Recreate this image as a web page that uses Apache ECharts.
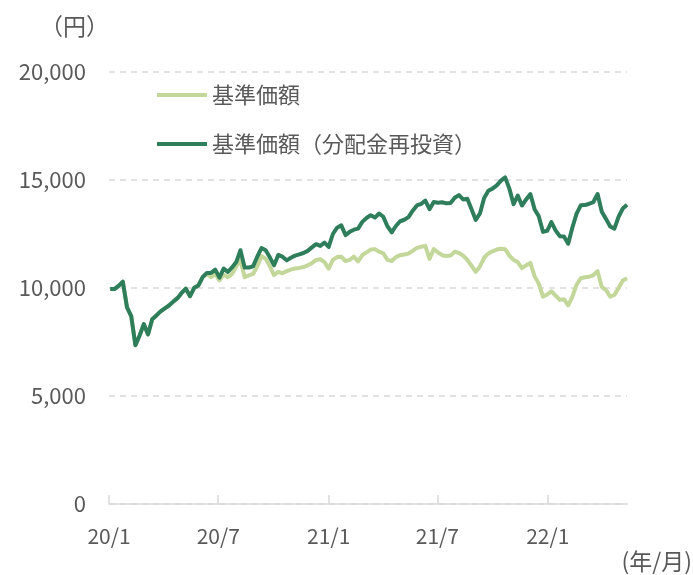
<!DOCTYPE html>
<html>
<head>
<meta charset="utf-8">
<script src="https://cdn.jsdelivr.net/npm/echarts@6/dist/echarts.min.js"></script>
<style>
html,body{margin:0;padding:0;background:#fff;}
#chart{width:693px;height:575px;}
</style>
</head>
<body>
<div id="chart"></div>
<script>
// Weekly observations, first one on day 2 (2020-01-03), counted in days from 2020-01-01
const firstDay = 2;
const stepDays = 7;
const seriesNames = ['基準価額', '基準価額（分配金再投資）'];
// 基準価額（分配金再投資）
const navReinvested = [
  9950, 9950, 10100, 10290, 9100, 8700, 7350, 7800, 8330, 7850,
  8550, 8730, 8920, 9060, 9190, 9370, 9530, 9770, 9970, 9620,
  10010, 10120, 10500, 10700, 10700, 10850, 10480, 10900, 10750, 10950,
  11200, 11750, 10950, 10950, 11000, 11450, 11850, 11750, 11420, 11050,
  11530, 11450, 11280, 11400, 11500, 11560, 11620, 11720, 11880, 12030,
  11950, 12100, 11900, 12500, 12790, 12900, 12450, 12600, 12700, 12750,
  13060, 13240, 13370, 13260, 13450, 13300, 12850, 12580, 12870, 13090,
  13160, 13280, 13580, 13820, 13890, 14050, 13650, 13980, 13950, 13970,
  13920, 13940, 14180, 14300, 14100, 14130, 13650, 13150, 13450, 14170,
  14500, 14600, 14750, 14970, 15120, 14600, 13880, 14280, 13820, 14100,
  14350, 13650, 13320, 12600, 12650, 13050, 12670, 12400, 12380, 12050,
  12800, 13440, 13830, 13840, 13900, 13980, 14350, 13530, 13200, 12850,
  12750, 13300, 13680, 13850
];
// 基準価額
const nav = [
  9950, 9950, 10100, 10290, 9100, 8700, 7350, 7800, 8330, 7850,
  8550, 8730, 8920, 9060, 9190, 9370, 9530, 9770, 9970, 9620,
  10010, 10120, 10500, 10650, 10500, 10650, 10350, 10620, 10500, 10650,
  11000, 11280, 10500, 10580, 10650, 11000, 11480, 11350, 11000, 10600,
  10750, 10680, 10780, 10850, 10900, 10930, 10970, 11050, 11150, 11300,
  11330, 11200, 10900, 11300, 11430, 11450, 11250, 11300, 11450, 11230,
  11520, 11650, 11780, 11800, 11680, 11600, 11300, 11250, 11430, 11520,
  11550, 11600, 11720, 11860, 11910, 11950, 11350, 11800, 11650, 11520,
  11480, 11500, 11680, 11620, 11500, 11300, 11030, 10750, 11000, 11400,
  11600, 11700, 11780, 11820, 11800, 11500, 11300, 11200, 10920, 11050,
  11160, 10550, 10200, 9600, 9700, 9850, 9650, 9450, 9480, 9200,
  9600, 10150, 10450, 10500, 10520, 10600, 10780, 10050, 9900, 9600,
  9680, 10000, 10350, 10450
];
// x-axis tick positions (days from 2020-01-01) and labels
const tickDays = [0, 182, 366, 547, 731];
const tickLabels = ['20/1', '20/7', '21/1', '21/7', '22/1'];
const yMin = 0, yMax = 20000, yInterval = 5000;

const toPairs = arr => arr.map((v, i) => [firstDay + stepDays * i, v]);
const lastDay = firstDay + stepDays * (nav.length - 1);

const font = '"Noto Sans CJK JP", "Noto Sans", sans-serif';
const grey = '#595959';

const chart = echarts.init(document.getElementById('chart'), null, {renderer: 'canvas'});
chart.setOption({
  animation: false,
  backgroundColor: '#ffffff',
  textStyle: {fontFamily: font},
  grid: {left: 109, right: 693 - 627, top: 72, bottom: 575 - 504, containLabel: false},
  legend: {
    orient: 'vertical',
    left: 152,
    top: 79,
    itemWidth: 50,
    itemHeight: 4,
    itemGap: 27,
    icon: 'rect',
    textStyle: {fontFamily: font, fontSize: 22, color: grey, padding: [0, 0, 0, 0]},
    data: seriesNames
  },
  xAxis: {
    type: 'value',
    min: 0,
    max: lastDay,
    axisLine: {show: true, lineStyle: {color: '#d9d9d9', width: 1.5}},
    axisTick: {show: true, inside: true, length: 9, customValues: tickDays, lineStyle: {color: '#d9d9d9', width: 1.5}},
    axisLabel: {
      customValues: tickDays,
      margin: 22,
      fontSize: 21,
      color: grey,
      fontFamily: font,
      formatter: v => {
        const i = tickDays.indexOf(v);
        return i >= 0 ? tickLabels[i] : '';
      }
    },
    splitLine: {show: false}
  },
  yAxis: {
    type: 'value',
    min: yMin,
    max: yMax,
    interval: yInterval,
    axisLine: {show: false},
    axisTick: {show: false},
    axisLabel: {
      margin: 23,
      fontSize: 22,
      color: grey,
      fontFamily: font,
      formatter: v => v.toLocaleString('en-US')
    },
    splitLine: {show: true, lineStyle: {color: '#d9d9d9', width: 1.5, type: [6, 5]}}
  },
  series: [
    {
      name: seriesNames[0],
      type: 'line',
      data: toPairs(nav),
      symbol: 'none',
      color: '#c3d79a',
      lineStyle: {width: 4, color: '#c3d79a', join: 'round'},
      z: 2
    },
    {
      name: seriesNames[1],
      type: 'line',
      data: toPairs(navReinvested),
      symbol: 'none',
      color: '#2e7d5b',
      lineStyle: {width: 4, color: '#2e7d5b', join: 'round'},
      z: 3
    }
  ],
  graphic: [
    {type: 'text', left: 40, top: 15, style: {text: '（円）', font: '23px ' + font, fill: grey}},
    {type: 'text', right: 1, top: 550, style: {text: '(年/月)', font: '23px ' + font, fill: grey}}
  ]
});
</script>
</body>
</html>
